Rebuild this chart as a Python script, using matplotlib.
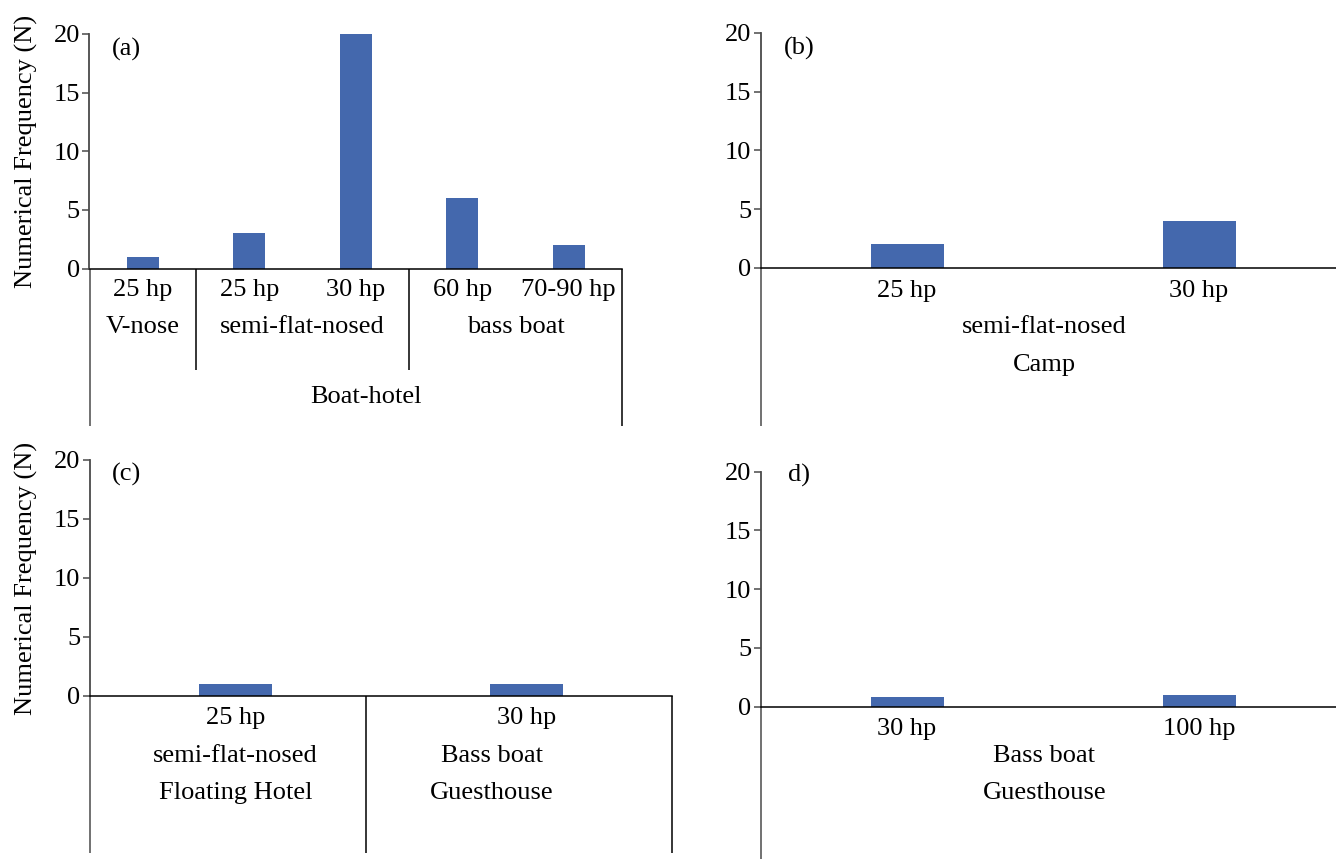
import matplotlib
matplotlib.use("Agg")
import matplotlib.pyplot as plt

plt.rcParams["font.family"] = ["Liberation Serif", "DejaVu Serif"]
plt.rcParams["font.size"] = 19

# ---- data -------------------------------------------------------------
a_motor = ["25 hp", "25 hp", "30 hp", "60 hp", "70-90 hp"]
a_values = [1, 3, 20, 6, 2]
a_types = ["V-nose", "semi-flat-nosed", "bass boat"]
a_type_span = [(0, 0), (1, 2), (3, 4)]
a_venue = "Boat-hotel"

b_motor = ["25 hp", "30 hp"]
b_values = [2, 4]
b_type = "semi-flat-nosed"
b_venue = "Camp"

c_motor = ["25 hp", "30 hp"]
c_values = [1, 1]
c_types = ["semi-flat-nosed", "Bass boat"]
c_venues = ["Floating Hotel", "Guesthouse"]

d_motor = ["30 hp", "100 hp"]
d_values = [0.85, 0.95]
d_type = "Bass boat"
d_venue = "Guesthouse"

y_ticks = [0, 5, 10, 15, 20]

BAR = "#4468AD"
AXIS_GRAY = "#4a4a4a"
W, H = 1336, 859


def make_ax(fig, left, right, top, bottom):
    # pixel box (from top-left) -> figure fraction
    return fig.add_axes([left / W, 1 - bottom / H, (right - left) / W, (bottom - top) / H])


def base(ax, values, width, tag, tag_xy):
    n = len(values)
    ax.bar(range(n), values, width=width, color=BAR, zorder=2)
    ax.set_xlim(-0.5, n - 0.5)
    ax.set_ylim(0, 20)
    ax.set_yticks(y_ticks)
    ax.set_xticks([])
    for s in ("top", "right"):
        ax.spines[s].set_visible(False)
    ax.spines["bottom"].set_color("black")
    ax.spines["bottom"].set_linewidth(1.1)
    ax.spines["left"].set_color(AXIS_GRAY)
    ax.spines["left"].set_linewidth(1.3)
    ax.tick_params(axis="y", length=5, width=1.1, color=AXIS_GRAY, pad=2, labelsize=19)
    ax.text(tag_xy[0], tag_xy[1], tag, transform=ax.transAxes, ha="left", va="center")


def vline(ax, x, low, color="black"):
    ax.plot([x, x], [0, low], transform=ax.get_xaxis_transform(), color=color,
            lw=1.1, clip_on=False, solid_capstyle="butt")


def lab(ax, x, y, s):
    ax.text(x, y, s, transform=ax.get_xaxis_transform(), ha="center", va="center")


fig = plt.figure(figsize=(W / 100, H / 100), dpi=100)

# (a) Boat-hotel
ax = make_ax(fig, 89.5, 622, 34, 268.5)
base(ax, a_values, 0.3, "(a)", (0.042, 0.936))
for i, m in enumerate(a_motor):
    lab(ax, i, -0.092, m)
for t, (s0, s1) in zip(a_types, a_type_span):
    lab(ax, (s0 + s1) / 2, -0.249, t)
for s0, s1 in a_type_span[1:]:
    vline(ax, s0 - 0.5, -0.433)
vline(ax, -0.5, -0.672, AXIS_GRAY)
vline(ax, len(a_values) - 0.5, -0.672)
lab(ax, 2.1, -0.548, a_venue)

# (b) Camp
ax = make_ax(fig, 761, 1345, 33, 268)
base(ax, b_values, 0.25, "(b)", (0.039, 0.933))
for i, m in enumerate(b_motor):
    lab(ax, i, -0.1, m)
lab(ax, 0.47, -0.251, b_type)
lab(ax, 0.47, -0.413, b_venue)
vline(ax, -0.5, -0.672, AXIS_GRAY)

# (c) Floating Hotel / Guesthouse
ax = make_ax(fig, 90, 672, 460, 695.5)
base(ax, c_values, 0.25, "(c)", (0.038, 0.94))
for i, m in enumerate(c_motor):
    lab(ax, i, -0.0955, m)
lab(ax, 0, -0.257, c_types[0])
lab(ax, 0, -0.414, c_venues[0])
lab(ax, 0.88, -0.257, c_types[1])
lab(ax, 0.88, -0.414, c_venues[1])
vline(ax, -0.5, -0.669, AXIS_GRAY)
vline(ax, 0.45, -0.669)
vline(ax, 1.5, -0.669)

# (d) Guesthouse
ax = make_ax(fig, 761, 1345, 471.5, 706.5)
base(ax, d_values, 0.25, "d)", (0.046, 0.985))
for i, m in enumerate(d_motor):
    lab(ax, i, -0.0957, m)
lab(ax, 0.47, -0.21, d_type)
lab(ax, 0.47, -0.368, d_venue)
vline(ax, -0.5, -0.7, AXIS_GRAY)

for yc in (151, 578):
    fig.text(26 / W, 1 - yc / H, "Numerical Frequency (N)", rotation=90,
             ha="center", va="center")

fig.savefig("out.png", dpi=100)
